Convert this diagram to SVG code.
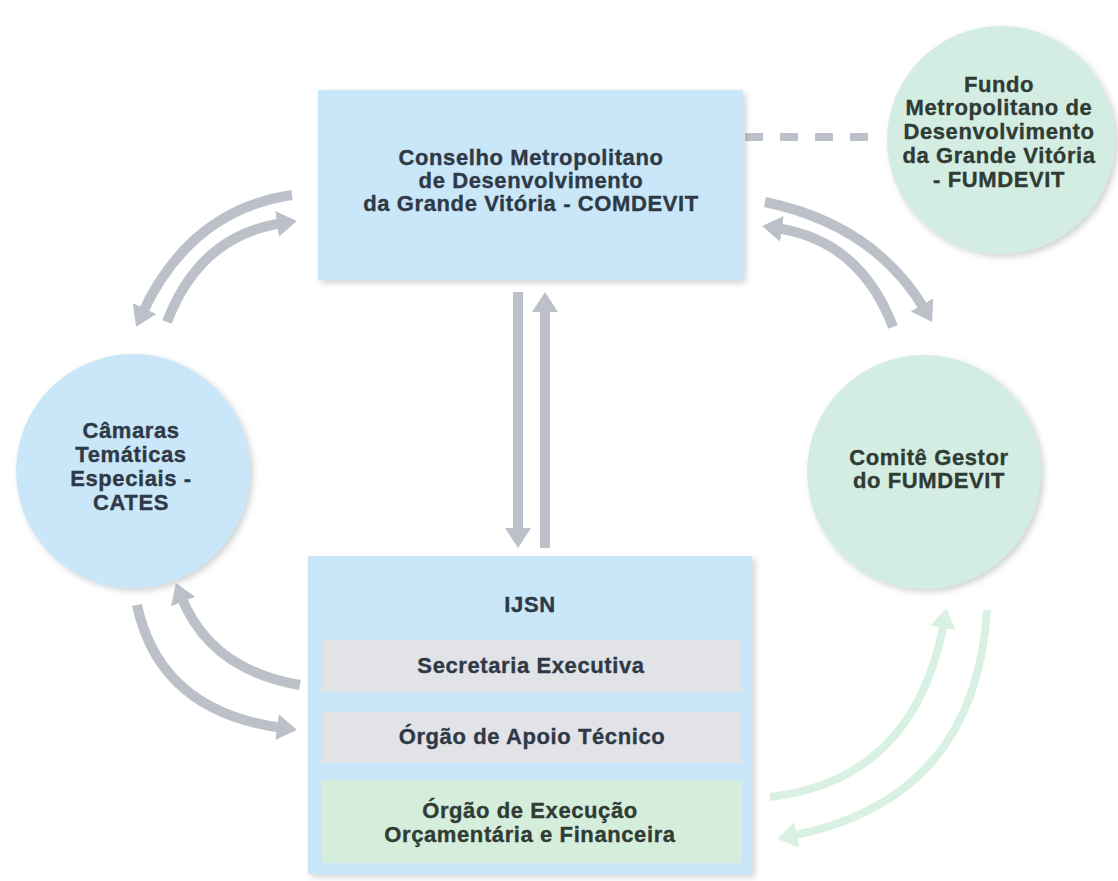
<svg xmlns="http://www.w3.org/2000/svg" width="1118" height="881" viewBox="0 0 1118 881">
  <defs>
    <filter id="sh" x="-10%" y="-10%" width="125%" height="125%">
      <feDropShadow dx="3" dy="3" stdDeviation="3" flood-color="#7a7f88" flood-opacity="0.35"/>
    </filter>
    <marker id="ag" viewBox="0 0 20 26" refX="6" refY="13" markerWidth="20" markerHeight="26" markerUnits="userSpaceOnUse" orient="auto">
      <path d="M0,0 L20,13 L0,26 z" fill="#bcc0c8"/>
    </marker>
    <marker id="agr" viewBox="0 0 20 26" refX="6" refY="13" markerWidth="20" markerHeight="26" markerUnits="userSpaceOnUse" orient="auto">
      <path d="M0,0 L20,13 L0,26 z" fill="#d9f1e2"/>
    </marker>
    <style>
      .t { font-family: "Liberation Sans", Arial, sans-serif; font-weight: bold; font-size: 22px; letter-spacing: 0.6px; fill: #2f3946; stroke: #2f3946; stroke-width: 0.35px; text-anchor: middle; }
      .tg { fill: #2f3b34; stroke: #2f3b34; }
      .blue { fill: #c9e7f8; }
      .green { fill: #d4ede2; }
      .gray { fill: #e1e3e7; }
      .gbox { fill: #d5eedb; }
      .arr { fill: none; stroke: #bcc0c8; stroke-width: 10; marker-end: url(#ag); }
      .arrg { fill: none; stroke: #d9f1e2; stroke-width: 8; marker-end: url(#agr); }
    </style>
  </defs>
  <rect width="1118" height="881" fill="#ffffff"/>

  <g id="connectors">
    <line x1="745" y1="137" x2="882" y2="137" stroke="#bcc0c8" stroke-width="8" stroke-dasharray="18 17"/>
    <path class="arr" d="M518 292 L518 534"/>
    <path class="arr" d="M545 548 L545 306"/>
    <path class="arr" d="M292 195 Q190 210 142 314"/>
    <path class="arr" d="M167 322 Q200 235 283 223"/>
    <path class="arr" d="M765 202 Q875 225 925 310"/>
    <path class="arr" d="M893 327 Q860 240 776 228"/>
    <path class="arr" d="M300 685 Q210 670 181 596"/>
    <path class="arr" d="M137 605 Q160 712 283 728"/>
    <path class="arrg" d="M770 797 Q915 780 944 622"/>
    <path class="arrg" d="M987 610 Q975 800 791 836"/>
  </g>

  <g id="comdevit">
    <rect class="blue" x="318" y="90" width="425" height="190" filter="url(#sh)"/>
    <text class="t" x="531" y="165">Conselho Metropolitano</text>
    <text class="t" x="531" y="188">de Desenvolvimento</text>
    <text class="t" x="531" y="211">da Grande Vitória - COMDEVIT</text>
  </g>

  <g id="fumdevit">
    <circle class="green" cx="1001" cy="140" r="114" filter="url(#sh)"/>
    <text class="t tg" x="999" y="92">Fundo</text>
    <text class="t tg" x="999" y="115">Metropolitano de</text>
    <text class="t tg" x="999" y="139">Desenvolvimento</text>
    <text class="t tg" x="999" y="163">da Grande Vitória</text>
    <text class="t tg" x="999" y="187">- FUMDEVIT</text>
  </g>

  <g id="cates">
    <circle class="blue" cx="133" cy="471" r="117" filter="url(#sh)"/>
    <text class="t" x="131" y="438">Câmaras</text>
    <text class="t" x="131" y="462">Temáticas</text>
    <text class="t" x="131" y="486">Especiais -</text>
    <text class="t" x="131" y="510">CATES</text>
  </g>

  <g id="comite">
    <circle class="green" cx="924" cy="472" r="117" filter="url(#sh)"/>
    <text class="t tg" x="929" y="465">Comitê Gestor</text>
    <text class="t tg" x="929" y="488">do FUMDEVIT</text>
  </g>

  <g id="ijsn">
    <rect class="blue" x="308" y="556" width="444" height="318" filter="url(#sh)"/>
    <text class="t" x="530" y="612">IJSN</text>
  </g>
  <g id="secretaria">
    <rect class="gray" x="322" y="640" width="420" height="52"/>
    <text class="t" x="531" y="673">Secretaria Executiva</text>
  </g>
  <g id="apoio">
    <rect class="gray" x="322" y="712" width="420" height="51"/>
    <text class="t" x="532" y="744">Órgão de Apoio Técnico</text>
  </g>
  <g id="execucao">
    <rect class="gbox" x="322" y="780" width="420" height="83"/>
    <text class="t tg" x="530" y="818">Órgão de Execução</text>
    <text class="t tg" x="530" y="842">Orçamentária e Financeira</text>
  </g>
</svg>
